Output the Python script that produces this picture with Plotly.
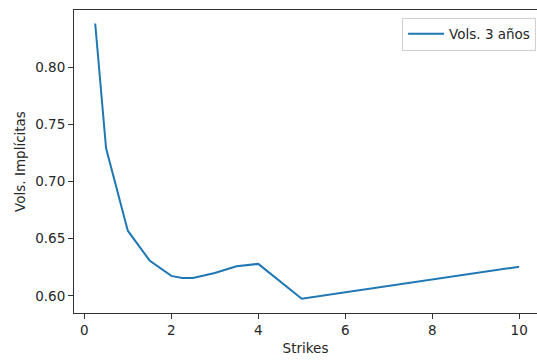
import plotly.graph_objects as go

strikes = [0.25, 0.5, 1.0, 1.5, 2.0, 2.25, 2.5, 3.0, 3.5, 4.0, 5.0, 10.0]
vols_3y = [0.838, 0.729, 0.657, 0.631, 0.6175, 0.6157, 0.6157, 0.620, 0.626, 0.628, 0.5975, 0.6255]
series_name = "Vols. 3 años"
x_ticks = [0, 2, 4, 6, 8, 10]
y_ticks = [0.60, 0.65, 0.70, 0.75, 0.80]

font_family = "DejaVu Sans, sans-serif"
fs = 13.5
txt = "#262626"

fig = go.Figure()
fig.add_trace(go.Scatter(x=strikes, y=vols_3y, mode="lines", name=series_name,
                         line=dict(color="#1f77b4", width=2)))

fig.update_layout(
    width=537, height=360,
    margin=dict(l=74, r=0, t=10, b=47),
    paper_bgcolor="white", plot_bgcolor="white",
    font=dict(family=font_family, size=fs, color=txt),
    showlegend=True,
    legend=dict(x=0.998, y=0.975, xanchor="right", yanchor="top",
                bgcolor="rgba(255,255,255,0.8)", bordercolor="#d0d0d0", borderwidth=1,
                font=dict(size=fs), itemwidth=36),
)
fig.update_xaxes(range=[-0.2375, 10.41], tickvals=x_ticks, ticktext=[str(v) for v in x_ticks],
                 showgrid=False, zeroline=False, showline=True, linecolor="#333", linewidth=1,
                 mirror=True, ticks="outside", ticklen=5, tickcolor="#333",
                 title=dict(text="Strikes", standoff=6, font=dict(size=fs)))
fig.update_yaxes(range=[0.5851, 0.8498], tickvals=y_ticks, ticktext=[f"{v:.2f}" for v in y_ticks],
                 showgrid=False, zeroline=False, showline=True, linecolor="#333", linewidth=1,
                 mirror=True, ticks="outside", ticklen=5, tickcolor="#333",
                 title=dict(text="Vols. Implícitas", standoff=6, font=dict(size=fs)))

fig.write_html("out.html")
